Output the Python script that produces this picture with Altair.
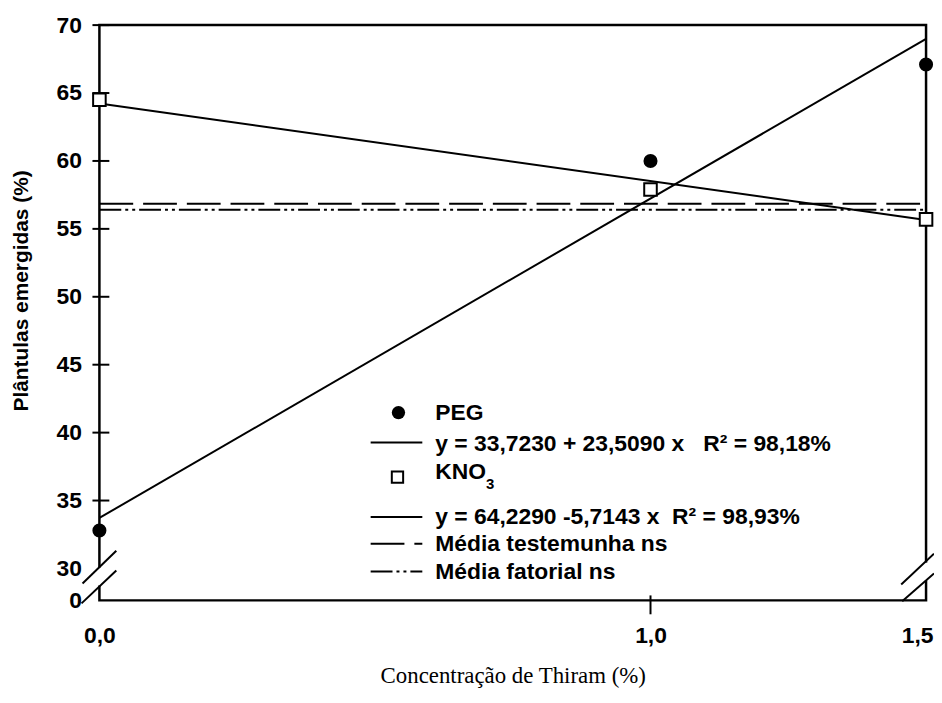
import altair as alt
import pandas as pd

# ---- data ----
conc = [0.0, 1.0, 1.5]
peg = [32.8, 60.0, 67.1]
kno3 = [64.5, 57.9, 55.7]
fit_x = [0.0, 1.5]
peg_fit = [33.72, 68.99]
kno3_fit = [64.23, 55.66]
media_testemunha = [56.85, 56.85]
media_fatorial = [56.4, 56.4]
x_ticks = [0.0, 1.0, 1.5]
x_tick_labels = ["0,0", "1,0", "1,5"]
x_inner_ticks = [1.0]
y_ticks = [30, 35, 40, 45, 50, 55, 60, 65, 70]
y_cross_ticks = [35, 40, 45, 50, 55, 60, 65, 70]
y_break_value = 27.65
y_break_label = "0"
x_title = "Concentração de Thiram (%)"
y_title = "Plântulas emergidas (%)"
leg_peg = "PEG"
leg_peg_eq = "y = 33,7230 + 23,5090 x\u00a0\u00a0\u00a0R² = 98,18%"
leg_kno = "KNO"
leg_kno_sub = "3"
leg_kno_eq = "y = 64,2290 -5,7143 x\u00a0\u00a0R² = 98,93%"
leg_test = "Média testemunha ns"
leg_fat = "Média fatorial ns"

W, H = 832, 579
SANS = "Liberation Sans"
SERIF = "Liberation Serif"

xlab_expr = ""
for v, lab in zip(x_ticks[:-1], x_tick_labels[:-1]):
    xlab_expr += f"abs(datum.value - {v}) < 0.01 ? '{lab}' : "
xlab_expr += f"'{x_tick_labels[-1]}'"

xscale = alt.Scale(domain=[0, 1.5], nice=False, zero=False)
yscale = alt.Scale(domain=[y_break_value, 70], nice=False, zero=False)

x_axis = alt.Axis(
    values=x_ticks, labelExpr=xlab_expr, title=x_title, grid=False, domain=False,
    ticks=False, tickSize=0, labelPadding=24, labelFont=SANS, labelFontWeight="bold",
    labelFontSize=23, labelColor="black", labelFlush=False,
    labelOffset={"condition": {"test": "datum.value > 1.4", "value": -9}, "value": 0},
    titleFont=SERIF, titleFontWeight="normal", titleFontSize=23, titleColor="black",
    titleX=416, titleY=76, titleBaseline="middle", titleAnchor="middle")
y_axis = alt.Axis(
    values=[y_break_value] + y_ticks,
    labelExpr=f"datum.value < {y_ticks[0] - 1} ? '{y_break_label}' : datum.label",
    title=y_title, grid=False, domain=False, ticks=False, tickSize=0, labelPadding=18,
    labelFont=SANS, labelFontWeight="bold", labelFontSize=23, labelColor="black",
    labelFlush=False,
    titleFont=SANS, titleFontWeight="bold", titleFontSize=21, titleColor="black",
    titleX=-78, titleY=267, titleBaseline="middle", titleAngle=-90)

pts = pd.DataFrame({"x": conc, "peg": peg, "kno3": kno3})
fits = pd.DataFrame({"x": fit_x, "peg": peg_fit, "kno3": kno3_fit,
                     "test": media_testemunha, "fat": media_fatorial})

base_fit = alt.Chart(fits)
l_peg = base_fit.mark_line(color="black", strokeWidth=2).encode(
    x=alt.X("x:Q", scale=xscale, axis=x_axis),
    y=alt.Y("peg:Q", scale=yscale, axis=y_axis))
l_kno = base_fit.mark_line(color="black", strokeWidth=2).encode(
    x=alt.X("x:Q", scale=xscale), y=alt.Y("kno3:Q", scale=yscale))
l_test = base_fit.mark_line(color="black", strokeWidth=2, strokeDash=[34, 10]).encode(
    x=alt.X("x:Q", scale=xscale), y=alt.Y("test:Q", scale=yscale))
l_fat = base_fit.mark_line(color="black", strokeWidth=2, strokeDash=[22, 4, 3, 4, 3, 4]).encode(
    x=alt.X("x:Q", scale=xscale), y=alt.Y("fat:Q", scale=yscale))

p_peg = alt.Chart(pts).mark_point(shape="circle", filled=True, color="black",
                                  size=200, opacity=1).encode(
    x=alt.X("x:Q", scale=xscale), y=alt.Y("peg:Q", scale=yscale))
p_kno = alt.Chart(pts).mark_point(shape="square", filled=True, fill="white",
                                  stroke="black", strokeWidth=2, size=160, opacity=1).encode(
    x=alt.X("x:Q", scale=xscale), y=alt.Y("kno3:Q", scale=yscale))

# crossing ticks
yt = alt.Chart(pd.DataFrame({"y": y_cross_ticks})).mark_rule(color="black", strokeWidth=2).encode(
    y=alt.Y("y:Q", scale=yscale), x=alt.value(-7), x2=alt.value(10))
xt = alt.Chart(pd.DataFrame({"x": x_inner_ticks})).mark_rule(color="black", strokeWidth=2).encode(
    x=alt.X("x:Q", scale=xscale), y=alt.value(H - 5), y2=alt.value(H + 14))

one = pd.DataFrame({"a": [0]})

def rule(x1, y1, x2, y2, color="black", width=2, dash=None):
    kw = dict(color=color, strokeWidth=width)
    if dash is not None:
        kw["strokeDash"] = dash
    return alt.Chart(one).mark_rule(**kw).encode(
        x=alt.value(x1), y=alt.value(y1), x2=alt.value(x2), y2=alt.value(y2))

def text(t, x, y, size=23, weight="bold", font=SANS):
    return alt.Chart(one).mark_text(text=t, align="left", baseline="middle", font=font,
                                    fontSize=size, fontWeight=weight, color="black").encode(
        x=alt.value(x), y=alt.value(y))

# axis breaks
brk = [
    rule(0, 546, 0, 564, color="white", width=6),
    rule(-17, 562, 17, 529),
    rule(-18, 582, 17, 549),
    rule(W, 541, W, 559, color="white", width=6),
    rule(840, 532, 807, 563),
    rule(840, 552, 808, 580),
]

# legend
leg = [
    alt.Chart(one).mark_point(shape="circle", filled=True, color="black", size=180, opacity=1).encode(
        x=alt.value(301), y=alt.value(390)),
    text(leg_peg, 338, 390),
    rule(273, 420, 325, 420),
    text(leg_peg_eq, 338, 422),
    alt.Chart(one).mark_point(shape="square", filled=True, fill="white", stroke="black",
                              strokeWidth=2, size=130, opacity=1).encode(
        x=alt.value(300), y=alt.value(455)),
    text(leg_kno, 338, 450),
    text(leg_kno_sub, 389, 462, size=15),
    rule(273, 495, 325, 495),
    text(leg_kno_eq, 338, 495),
    rule(273, 522, 325, 522, dash=[34, 10]),
    text(leg_test, 338, 522),
    rule(273, 550, 325, 550, dash=[22, 4, 3, 4, 3, 4]),
    text(leg_fat, 338, 550),
]

chart = alt.layer(l_peg, l_kno, l_test, l_fat, p_peg, p_kno, yt, xt, *brk, *leg).properties(
    width=W, height=H,
    autosize=alt.AutoSizeParams(type="none"),
    padding={"left": 92, "top": 15, "right": 8, "bottom": 90},
    background="white",
).configure_view(stroke="black", strokeWidth=2.5)

chart.save("out.html", embed_options={"renderer": "svg", "actions": False})
